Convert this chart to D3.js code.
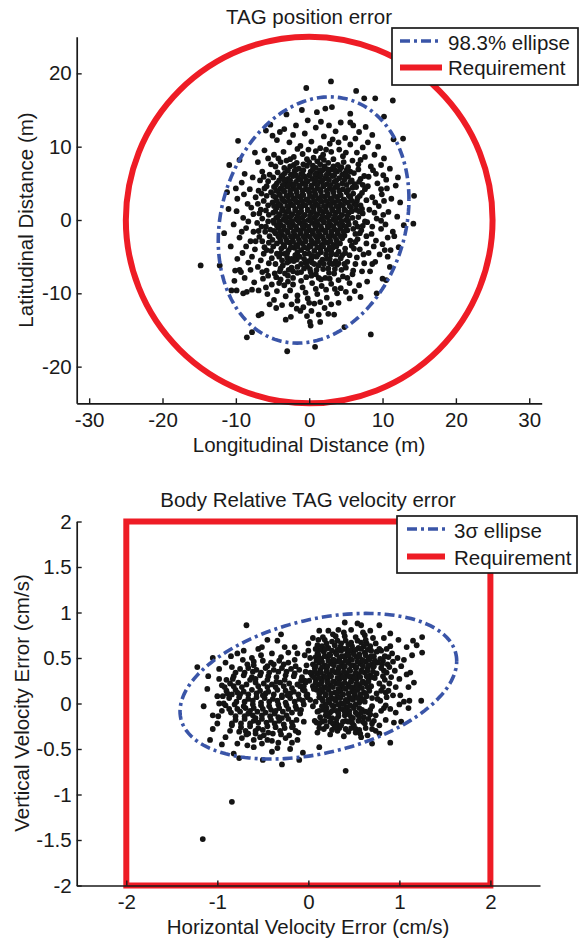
<!DOCTYPE html>
<html>
<head>
<meta charset="utf-8">
<script src="https://cdn.jsdelivr.net/npm/d3@7"></script>
<style>
html,body{margin:0;padding:0;background:#fff;}
svg{display:block;}
text{font-family:"Liberation Sans",Arial,Helvetica,sans-serif;}
</style>
</head>
<body>
<script>
// ---------- Panel 1: TAG position error ----------
const posTitle = "TAG position error";
const posXLabel = "Longitudinal Distance (m)";
const posYLabel = "Latitudinal Distance (m)";
const posTicksX = [-30,-20,-10,0,10,20,30];
const posTicksY = [-20,-10,0,10,20];
const posLegend = ["98.3% ellipse","Requirement"];
const posRequirementRadius = [25];
const posEllipseCenter = [0.6, 0.0];
const posEllipseCov = [169, 37, 282]; // sxx, sxy, syy
const posPoints = [
[-2.6,7.3],[-1.4,7.0],[-0.3,7.4],[0.9,7.1],[2.1,7.3],[3.0,6.9],[4.4,7.2],
[-3.3,6.4],[-2.0,6.7],[-1.1,6.3],[0.2,6.6],[1.1,6.4],[1.8,6.8],[2.7,6.3],[3.8,6.6],[4.9,6.4],
[-3.8,5.9],[-2.9,5.6],[-2.2,6.0],[-1.5,5.7],[-0.6,5.9],[0.4,5.6],[1.3,5.9],[2.2,5.7],[3.2,6.0],[4.1,5.7],[5.3,5.9],
[-4.4,5.0],[-3.2,5.3],[-2.5,4.9],[-1.8,5.2],[-0.9,5.0],[-0.2,5.3],[0.7,5.0],[1.5,5.2],[2.4,4.9],[3.4,5.2],[4.5,5.0],[5.6,5.2],
[-4.8,4.5],[-3.9,4.3],[-3.0,4.6],[-2.2,4.3],[-1.3,4.5],[-0.5,4.2],[0.3,4.5],[1.1,4.3],[1.9,4.6],[2.8,4.3],[3.6,4.5],[4.6,4.2],[5.9,4.4],
[-5.2,3.8],[-4.1,3.6],[-3.4,3.9],[-2.6,3.6],[-1.7,3.8],[-0.9,3.5],[0.0,3.8],[0.8,3.6],[1.6,3.9],[2.5,3.6],[3.3,3.8],[4.2,3.5],[5.1,3.8],[6.0,3.6],
[-4.6,3.1],[-3.7,2.9],[-2.9,3.2],[-2.1,2.9],[-1.2,3.1],[-0.4,2.8],[0.5,3.1],[1.3,2.9],[2.1,3.2],[2.9,2.9],[3.8,3.1],[4.7,2.8],[5.6,3.1],
[-5.0,2.4],[-4.2,2.2],[-3.3,2.5],[-2.5,2.2],[-1.6,2.4],[-0.8,2.1],[0.1,2.4],[0.9,2.2],[1.7,2.5],[2.6,2.2],[3.4,2.4],[4.3,2.1],[5.2,2.4],[6.2,2.2],
[-4.4,1.7],[-3.6,1.5],[-2.8,1.8],[-1.9,1.5],[-1.1,1.7],[-0.2,1.4],[0.6,1.7],[1.4,1.5],[2.3,1.8],[3.1,1.5],[4.0,1.7],[4.8,1.4],[5.7,1.7],
[-4.9,1.0],[-4.0,0.8],[-3.1,1.1],[-2.3,0.8],[-1.4,1.0],[-0.6,0.7],[0.3,1.0],[1.1,0.8],[1.9,1.1],[2.8,0.8],[3.6,1.0],[4.5,0.7],[5.4,1.0],
[-4.5,0.3],[-3.5,0.1],[-2.7,0.4],[-1.8,0.1],[-1.0,0.3],[-0.1,0.0],[0.7,0.3],[1.6,0.1],[2.4,0.4],[3.3,0.1],[4.1,0.3],[5.0,0.0],[5.9,0.3],
[-4.8,-0.4],[-3.9,-0.6],[-3.0,-0.3],[-2.2,-0.6],[-1.3,-0.4],[-0.5,-0.7],[0.4,-0.4],[1.2,-0.6],[2.0,-0.3],[2.9,-0.6],[3.7,-0.4],[4.6,-0.7],
[-4.2,-1.1],[-3.4,-1.3],[-2.5,-1.0],[-1.6,-1.3],[-0.8,-1.1],[0.1,-1.4],[0.9,-1.1],[1.8,-1.3],[2.6,-1.0],[3.5,-1.3],[4.3,-1.1],[5.2,-1.4],
[-4.6,-1.8],[-3.7,-2.0],[-2.9,-1.7],[-2.0,-2.0],[-1.2,-1.8],[-0.3,-2.1],[0.5,-1.8],[1.4,-2.0],[2.2,-1.7],[3.1,-2.0],[3.9,-1.8],[4.8,-2.1],
[-4.0,-2.5],[-3.1,-2.7],[-2.3,-2.4],[-1.4,-2.7],[-0.6,-2.5],[0.3,-2.8],[1.1,-2.5],[2.0,-2.7],[2.8,-2.4],[3.7,-2.7],[4.5,-2.5],
[-4.4,-3.2],[-3.5,-3.4],[-2.6,-3.1],[-1.8,-3.4],[-0.9,-3.2],[0.0,-3.5],[0.8,-3.2],[1.7,-3.4],[2.5,-3.1],[3.3,-3.4],[4.2,-3.2],
[-3.8,-3.9],[-2.8,-4.1],[-2.0,-3.8],[-1.1,-4.1],[-0.2,-3.9],[0.7,-4.2],[1.5,-3.9],[2.4,-4.1],[3.2,-3.8],
[-2.9,6.8],[-1.8,6.9],[-0.8,6.8],[0.5,6.9],[1.5,6.8],[2.5,6.9],[3.5,6.8],[4.2,6.9],
[-3.6,6.1],[-2.5,6.2],[-1.8,6.1],[-0.9,6.2],[0.0,6.1],[0.8,6.2],[1.6,6.1],[2.4,6.2],[3.4,6.1],[4.5,6.2],[5.0,6.1],
[-4.1,5.4],[-3.4,5.5],[-2.6,5.4],[-1.2,5.5],[-0.4,5.4],[0.9,5.5],[1.8,5.4],[2.7,5.5],[3.7,5.4],[4.8,5.5],
[-4.6,4.7],[-3.6,4.8],[-2.8,4.7],[-2.1,4.8],[-1.4,4.7],[-0.5,4.8],[0.3,4.7],[1.1,4.8],[2.0,4.7],[2.9,4.8],[3.9,4.7],[5.1,4.8],
[-4.5,4.0],[-3.5,4.1],[-2.6,4.0],[-1.8,4.1],[-0.9,4.0],[-0.1,4.1],[0.7,4.0],[1.5,4.1],[2.4,4.0],[3.2,4.1],[4.1,4.0],[5.3,4.1],
[-4.9,3.3],[-4.0,3.4],[-3.1,3.3],[-2.4,3.4],[-1.6,3.3],[-0.8,3.4],[0.1,3.3],[0.9,3.4],[1.7,3.3],[2.5,3.4],[3.4,3.3],[4.3,3.4],[5.4,3.3],
[-4.4,2.6],[-3.6,2.7],[-2.7,2.6],[-1.9,2.7],[-1.0,2.6],[-0.2,2.7],[0.7,2.6],[1.5,2.7],[2.3,2.6],[3.1,2.7],[4.0,2.6],[4.8,2.7],[5.8,2.6],
[-4.8,1.9],[-3.9,2.0],[-3.0,1.9],[-2.2,2.0],[-1.3,1.9],[-0.5,2.0],[0.4,1.9],[1.2,2.0],[2.0,1.9],[2.9,2.0],[3.7,1.9],[4.6,2.0],[5.5,1.9],
[-4.6,1.2],[-3.7,1.3],[-2.8,1.2],[-1.9,1.3],[-1.1,1.2],[-0.2,1.3],[0.6,1.2],[1.5,1.3],[2.3,1.2],[3.2,1.3],[4.0,1.2],[4.9,1.3],[5.8,1.2],
[-4.2,0.5],[-3.3,0.6],[-2.5,0.5],[-1.6,0.6],[-0.8,0.5],[0.1,0.6],[0.9,0.5],[1.8,0.6],[2.6,0.5],[3.5,0.6],[4.3,0.5],[5.2,0.6],
[-4.9,-0.1],[-4.1,-0.2],[-3.2,-0.1],[-2.4,-0.2],[-1.5,-0.1],[-0.7,-0.2],[0.2,-0.1],[1.0,-0.2],[1.9,-0.1],[2.7,-0.2],[3.6,-0.1],[4.4,-0.2],[5.3,-0.1],
[-4.4,-0.8],[-3.5,-0.9],[-2.7,-0.8],[-1.8,-0.9],[-0.9,-0.8],[-0.1,-0.9],[0.8,-0.8],[1.6,-0.9],[2.5,-0.8],[3.3,-0.9],[4.2,-0.8],[5.0,-0.9],
[-4.8,-1.5],[-3.9,-1.6],[-3.0,-1.5],[-2.1,-1.6],[-1.2,-1.5],[-0.4,-1.6],[0.5,-1.5],[1.3,-1.6],[2.2,-1.5],[3.0,-1.6],[3.9,-1.5],[4.7,-1.6],
[-4.2,-2.2],[-3.3,-2.3],[-2.5,-2.2],[-1.6,-2.3],[-0.8,-2.2],[0.1,-2.3],[0.9,-2.2],[1.8,-2.3],[2.6,-2.2],[3.5,-2.3],[4.3,-2.2],
[-3.9,-2.9],[-3.0,-3.0],[-2.2,-2.9],[-1.3,-3.0],[-0.5,-2.9],[0.4,-3.0],[1.2,-2.9],[2.1,-3.0],[2.9,-2.9],[3.8,-3.0],
[-3.4,-3.6],[-2.5,-3.7],[-1.6,-3.6],[-0.7,-3.7],[0.2,-3.6],[1.1,-3.7],[1.9,-3.6],[2.8,-3.7],[3.7,-3.6],
[-5.5,0.7],[-5.3,-1.3],[-5.4,-2.2],[-5.0,-2.7],[6.4,1.4],[6.3,-0.4],[5.6,-2.8],[5.4,-0.6],[6.0,-1.2],[5.8,5.4],
[-4.9,5.8],[-4.3,6.5],[5.6,6.6],[-3.9,-4.6],[4.0,-4.3],[4.9,-3.9],[-4.9,-3.6],
[-4.4,-4.6],[-3.0,-4.5],[-1.6,-4.4],[-0.6,-4.6],[0.3,-5.2],[1.0,-5.0],[2.8,-5.3],[1.6,-4.4],[3.0,-4.3],[4.5,-4.8],
[-2.7,-5.6],[-1.7,-5.4],[-0.5,-5.8],[0.4,-5.8],[1.5,-5.8],[2.8,-5.9],[3.5,-6.7],[-3.9,-6.6],[-2.8,-6.8],[-1.6,-6.4],
[-0.3,-6.3],[1.0,-6.8],[1.9,-6.7],[-4.5,-7.8],[-3.3,-7.3],[-2.2,-7.9],[-1.1,-7.1],[0.2,-7.1],[1.3,-7.9],[2.7,-7.2],
[-5.6,-7.6],[-4.1,-8.6],[-2.9,-8.4],
[-5.8,3.3],[-6.1,4.3],[-5.6,5.3],[-6.5,3.6],[-5.6,2.0],[-6.4,0.2],[-5.9,-0.9],[-6.8,0.9],[-6.4,-2.9],[-5.8,-4.1],
[-6.9,-1.5],[-7.0,2.2],[-5.4,6.2],[-6.2,5.9],
[6.5,2.6],[6.9,3.3],[6.2,4.9],[7.0,5.6],[6.6,-0.9],[6.9,-1.8],[6.1,-3.9],[7.3,0.9],[7.6,-0.2],[7.2,1.5],
[6.4,2.0],[7.6,4.2],
[-4.6,7.3],[-3.4,7.1],[-2.1,7.5],[-0.8,7.6],[0.5,7.4],[1.1,8.0],[2.0,8.2],[3.3,7.3],[4.7,7.9],[5.1,6.8],
[-2.6,8.3],[-4.2,8.4],[3.0,9.3],[-0.1,9.6],[1.6,8.5],
[-5.3,13.0],[-3.4,12.4],[-1.8,12.9],[-0.6,11.8],[0.9,12.6],[2.0,11.4],[3.6,12.1],[4.9,11.2],[6.8,12.0],[8.6,11.6],
[-4.4,10.9],[-2.7,10.6],[-1.2,10.1],[0.3,10.7],[1.5,9.8],[2.8,10.4],[4.1,9.6],[5.6,10.3],[7.3,9.9],[9.4,10.0],
[-6.1,9.5],[-4.8,8.9],[-3.5,9.3],[-2.1,8.6],[-0.9,9.0],[0.6,8.5],[1.9,8.9],[3.3,8.3],[4.6,8.7],[5.9,8.1],[7.6,8.6],[10.2,8.4],
[-7.0,7.9],[-5.2,7.6],[-3.9,7.9],[-1.7,7.8],[0.0,7.9],[1.5,7.6],[2.6,7.8],[3.9,7.5],[5.3,7.2],[6.7,7.6],[8.4,7.3],
[-6.4,6.6],[6.1,6.4],[7.5,6.0],[9.1,6.3],[11.0,7.0],
[-4.0,12.0],[-2.2,11.6],[1.6,13.4],[2.7,12.9],[4.3,13.3],[6.0,12.9],[7.7,12.7],[-0.2,13.6],[-5.0,11.5],[3.2,11.0],
[6.3,11.1],[8.0,10.6],[-3.1,8.1],[-0.3,8.3],[2.3,9.6],[4.0,10.6],[6.5,9.2],[8.9,8.9],[-5.6,8.4],[0.9,9.4],
[-1.6,9.7],[5.0,9.2],[7.0,8.2],[9.8,7.5],[10.5,5.5],[8.1,5.9],[6.4,4.5],[7.3,4.8],
[-9.2,5.1],[-8.1,4.2],[-6.7,5.4],[-5.8,4.6],[-9.8,2.9],[-8.4,2.2],[-7.3,3.1],[-6.2,2.6],[-5.9,1.3],[-7.6,0.8],
[-9.0,0.3],[-10.3,-0.6],[-8.6,-1.1],[-7.1,-0.4],[-6.0,-1.6],[-5.6,-0.2],[-9.5,-2.4],[-8.0,-2.9],[-6.8,-2.3],[-5.5,-3.1],
[-7.4,-4.0],[-9.1,-4.5],[-6.2,-4.6],[-5.1,-5.2],[-8.3,-5.8],[-7.0,-6.4],[-5.8,-6.9],[-4.7,-7.3],[-8.8,-7.9],[-7.5,-8.5],
[-6.3,-8.0],[-5.1,-8.8],[-3.9,-8.1],[-6.9,-9.6],[-5.7,-10.1],[-4.4,-9.7],[-3.2,-10.4],
[-11.2,3.8],[-11.6,-1.8],[-10.7,-3.6],[-11.0,1.5],
[-10.0,4.3],[-8.8,6.3],[-7.7,5.8],[-6.9,4.0],[-8.9,3.5],[-7.9,1.7],[-6.6,1.4],[-9.9,1.2],[-8.3,-0.2],[-6.5,-0.9],
[-9.2,-1.6],[-7.6,-1.6],[-7.3,-2.9],[-8.6,-3.6],[-6.1,-3.7],[-9.8,-5.3],[-7.8,-5.0],[-6.6,-5.5],[-5.5,-5.9],[-8.0,-6.8],
[-6.4,-7.1],[-9.5,-6.8],[-7.8,-9.5],[-5.9,-9.2],[-4.8,-10.9],[-3.7,-11.6],[-5.4,-11.5],[-10.2,-8.3],
[-3.0,-5.1],[-1.9,-4.8],[-0.7,-5.3],[0.5,-4.9],[1.8,-5.4],[3.0,-4.7],[4.3,-5.2],[5.5,-4.8],
[-3.6,-6.2],[-2.4,-6.5],[-1.1,-6.0],[0.1,-6.7],[1.3,-6.2],[2.6,-6.6],[3.8,-6.1],[5.0,-6.5],[6.3,-6.0],
[-2.9,-7.6],[-1.6,-7.2],[-0.4,-7.8],[0.9,-7.4],[2.2,-7.9],[3.4,-7.3],[4.6,-7.7],[5.9,-7.4],[7.2,-7.0],
[-2.2,-8.8],[-0.9,-9.2],[0.4,-8.6],[1.7,-9.0],[3.0,-8.7],[4.3,-9.3],[5.5,-8.6],[6.8,-8.9],
[-1.6,-10.3],[-0.2,-10.7],[1.1,-10.1],[2.4,-10.6],[3.8,-10.0],[-2.4,-11.5],[-0.8,-11.9],[0.7,-11.4],[2.1,-12.0],[4.0,-11.3],
[1.3,-12.9],[-0.3,-13.1],
[-5.2,-4.2],[-4.1,-5.0],[-3.3,-4.6],[-4.6,-6.0],[-3.0,-5.8],[-2.1,-5.6],[-4.0,-7.0],[-3.4,-8.9],[-2.6,-9.6],
[5.2,-5.7],[6.0,-6.9],[4.0,-5.9],[6.5,-5.1],
[-0.1,-5.6],[2.4,-5.3],[3.6,-5.6],[4.8,-6.0],[-2.4,-5.3],[-1.3,-5.0],[0.0,-4.6],[1.2,-4.7],[2.3,-4.7],[3.7,-4.7],
[4.9,-4.5],[-3.7,-5.5],[-0.7,-6.6],[0.7,-6.0],[2.0,-6.0],[3.2,-6.0],[4.4,-6.8],[-2.2,-7.0],[-1.1,-8.3],[0.3,-7.6],
[1.6,-8.1],[2.8,-8.0],[4.0,-8.2],[5.2,-7.9],[-0.5,-9.9],[0.9,-9.4],[2.3,-9.5],[3.5,-9.4],[5.0,-9.8],[-1.6,-11.0],
[0.0,-11.3],[1.5,-11.2],[3.0,-11.5],[-1.2,-12.4],[0.3,-12.4],[2.6,-12.8],[-4.5,-12.0],[6.2,-9.7],[7.9,-8.4],[8.3,-7.0],
[7.5,-5.9],[8.6,-6.0],
[6.8,5.2],[8.0,4.6],[9.3,5.0],[10.6,4.3],[7.2,3.7],[8.6,3.1],[9.9,3.5],[11.2,2.9],[7.0,2.0],[8.2,1.4],
[9.5,1.9],[10.8,1.1],[6.7,0.4],[7.9,-0.3],[9.2,0.2],[10.4,-0.6],[7.1,-1.4],[8.5,-1.9],[9.8,-1.2],[6.6,-2.6],
[7.8,-3.2],[9.1,-2.8],[10.7,-2.4],[6.9,-4.0],[8.1,-4.5],[5.8,-3.5],
[6.6,3.0],[7.8,2.7],[9.0,2.4],[10.2,2.6],[6.8,1.2],[8.9,1.0],[10.1,0.7],[7.3,-0.8],[8.6,-0.9],[9.8,-0.1],
[11.4,-1.6],[6.3,-1.9],[7.8,-2.2],[8.8,-3.6],[10.0,-3.3],[7.4,-4.7],[6.3,-3.0],[10.7,-5.0],[6.7,6.9],[8.7,6.8],
[10.1,6.1],[9.8,4.2],[11.8,4.7],[12.1,5.8],[11.6,-2.2],[10.3,-4.1],
[2.97,18.9],[-0.4,18.0],[6.4,17.6],[7.5,16.6],[9.0,16.6],[11.4,16.3],[-3.1,14.4],[-1.0,15.0],[1.05,14.7],[2.2,15.2],
[3.1,15.4],[5.6,14.5],[5.6,13.3],[10.2,14.1],[-5.9,12.2],[-9.7,10.8],[-10.9,7.5],[-9.5,8.2],[-7.4,9.2],[12.8,11.1],
[11.5,11.0],[14.3,3.3],[14.2,-0.5],[12.4,2.4],[12.0,0.45],[12.9,-0.7],[12.2,-3.7],[11.1,-4.1],[9.6,-4.7],[9.0,-5.7],
[11.0,-6.4],[10.5,-8.2],[10.0,-8.0],[-14.8,-6.2],[-12.2,-6.2],[-10.1,-6.9],[-9.3,-7.1],[-10.6,-9.6],[-9.9,-9.6],[-9.0,-10.0],
[-8.5,-9.8],[-6.9,-13.0],[-6.5,-12.8],[-8.5,-16.0],[-7.8,-15.3],[-3.0,-17.9],[0.8,-17.3],[0.2,-14.4],[0.1,-13.9],[1.5,-13.9],
[4.8,-14.6],[8.4,-15.6],[-3.2,-13.6],[-2.5,-13.2],[-1.7,-12.1],[3.4,-12.9],[7.0,-10.5],[5.5,-10.7],[9.2,-10.0]
];

// ---------- Panel 2: Body Relative TAG velocity error ----------
const velTitle = "Body Relative TAG velocity error";
const velXLabel = "Horizontal Velocity Error (cm/s)";
const velYLabel = "Vertical Velocity Error (cm/s)";
const velTicksX = [-2,-1,0,1,2];
const velTicksY = [-2,-1.5,-1,-0.5,0,0.5,1,1.5,2];
const velLegend = ["3\u03C3 ellipse","Requirement"];
const velRequirementHalf = [2];
const velEllipseCenter = [0.11, 0.19];
const velEllipseCov = [2.31, 0.42, 0.64]; // sxx, sxy, syy
const velPoints = [
[0.15,0.63],[0.22,0.61],[0.29,0.64],[0.35,0.62],[0.42,0.60],[0.48,0.63],[0.55,0.61],[0.61,0.63],
[0.10,0.55],[0.17,0.57],[0.23,0.54],[0.30,0.56],[0.36,0.58],[0.43,0.55],[0.49,0.57],[0.56,0.54],[0.62,0.56],[0.69,0.58],
[0.08,0.51],[0.14,0.49],[0.21,0.51],[0.27,0.48],[0.34,0.50],[0.40,0.52],[0.46,0.49],[0.53,0.51],[0.59,0.48],[0.66,0.50],[0.72,0.52],
[0.05,0.43],[0.12,0.45],[0.18,0.42],[0.25,0.44],[0.31,0.46],[0.37,0.43],[0.44,0.45],[0.50,0.42],[0.57,0.44],[0.63,0.46],[0.70,0.43],[0.76,0.45],
[0.07,0.39],[0.13,0.37],[0.20,0.39],[0.26,0.36],[0.33,0.38],[0.39,0.40],[0.45,0.37],[0.52,0.39],[0.58,0.36],[0.65,0.38],[0.71,0.40],
[0.04,0.31],[0.10,0.33],[0.17,0.30],[0.23,0.32],[0.30,0.34],[0.36,0.31],[0.42,0.33],[0.49,0.30],[0.55,0.32],[0.62,0.34],[0.68,0.31],[0.75,0.33],
[0.08,0.27],[0.15,0.25],[0.21,0.27],[0.28,0.24],[0.34,0.26],[0.40,0.28],[0.47,0.25],[0.53,0.27],[0.60,0.24],[0.66,0.26],[0.73,0.28],
[0.05,0.19],[0.11,0.21],[0.18,0.18],[0.24,0.20],[0.31,0.22],[0.37,0.19],[0.44,0.21],[0.50,0.18],[0.56,0.20],[0.63,0.22],[0.69,0.19],
[0.09,0.15],[0.16,0.13],[0.22,0.15],[0.29,0.12],[0.35,0.14],[0.41,0.16],[0.48,0.13],[0.54,0.15],[0.61,0.12],[0.67,0.14],
[0.12,0.07],[0.19,0.09],[0.25,0.06],[0.32,0.08],[0.38,0.10],[0.45,0.07],[0.51,0.09],[0.58,0.06],[0.64,0.08],
[0.16,0.03],[0.23,0.01],[0.30,0.03],[0.36,0.00],[0.43,0.02],[0.49,0.04],[0.56,0.01],
[0.20,-0.05],[0.28,-0.03],[0.35,-0.06],[0.42,-0.04],[0.50,-0.05],
[0.13,0.59],[0.19,0.60],[0.26,0.58],[0.32,0.59],[0.39,0.60],[0.45,0.58],[0.52,0.59],[0.58,0.60],[0.65,0.59],
[0.11,0.53],[0.18,0.52],[0.24,0.53],[0.31,0.54],[0.37,0.52],[0.44,0.53],[0.50,0.54],[0.56,0.52],[0.63,0.53],[0.69,0.52],
[0.09,0.47],[0.15,0.46],[0.22,0.47],[0.28,0.48],[0.35,0.46],[0.41,0.47],[0.48,0.48],[0.54,0.46],[0.60,0.47],[0.67,0.48],[0.73,0.47],
[0.08,0.41],[0.15,0.40],[0.21,0.41],[0.28,0.42],[0.34,0.40],[0.40,0.41],[0.47,0.42],[0.53,0.40],[0.60,0.41],[0.66,0.42],[0.72,0.41],
[0.07,0.35],[0.14,0.34],[0.20,0.35],[0.27,0.36],[0.33,0.34],[0.39,0.35],[0.46,0.36],[0.52,0.34],[0.59,0.35],[0.65,0.36],[0.71,0.35],
[0.06,0.29],[0.12,0.28],[0.19,0.29],[0.25,0.30],[0.32,0.28],[0.38,0.29],[0.45,0.30],[0.51,0.28],[0.57,0.29],[0.64,0.30],[0.70,0.29],
[0.08,0.23],[0.14,0.22],[0.21,0.23],[0.27,0.24],[0.34,0.22],[0.40,0.23],[0.47,0.24],[0.53,0.22],[0.59,0.23],[0.66,0.24],
[0.08,0.17],[0.14,0.16],[0.21,0.17],[0.27,0.18],[0.33,0.16],[0.40,0.17],[0.46,0.18],[0.53,0.16],[0.59,0.17],[0.65,0.18],
[0.12,0.11],[0.19,0.10],[0.25,0.11],[0.32,0.12],[0.38,0.10],[0.44,0.11],[0.51,0.12],[0.57,0.10],[0.63,0.11],
[0.15,0.05],[0.22,0.04],[0.28,0.05],[0.35,0.06],[0.41,0.04],[0.48,0.05],[0.54,0.06],[0.60,0.04],
[0.19,-0.01],[0.26,-0.02],[0.33,-0.01],[0.39,0.00],[0.46,-0.02],[0.52,-0.01],
[0.10,-0.09],[0.17,-0.07],[0.24,-0.10],[0.31,-0.08],[0.38,-0.06],[0.45,-0.08],[0.52,-0.10],[0.59,-0.07],[0.66,-0.10],
[0.13,-0.15],[0.19,-0.13],[0.26,-0.16],[0.33,-0.14],[0.40,-0.13],[0.47,-0.15],[0.54,-0.12],[0.61,-0.15],[0.68,-0.12],
[0.09,-0.21],[0.18,-0.19],[0.24,-0.20],[0.31,-0.22],[0.41,-0.19],[0.48,-0.21],[0.55,-0.19],[0.60,-0.20],[0.70,-0.22],
[0.17,-0.28],[0.26,-0.29],[0.34,-0.27],[0.41,-0.28],[0.47,-0.27],[0.56,-0.29],[0.63,-0.27],[0.74,-0.30],
[0.80,0.58],[0.82,0.47],[0.81,0.43],[0.83,0.36],[0.84,0.26],[0.82,0.18],[0.85,0.12],[0.79,0.03],[0.83,-0.05],[0.88,0.51],
[0.89,0.40],[0.88,0.14],
[0.20,0.66],[0.32,0.69],[0.44,0.65],[0.54,0.69],[0.64,0.66],[0.11,0.70],[0.40,0.74],[0.62,0.75],
[0.05,0.72],[0.18,0.70],[0.30,0.74],[0.41,0.69],[0.52,0.73],[0.63,0.70],[0.74,0.66],[0.22,0.80],[0.47,0.81],[0.58,0.86],
[0.83,0.72],[0.90,0.63],[0.92,0.55],[0.84,0.52],[0.87,0.43],[0.95,0.36],[0.82,0.30],[0.89,0.22],[1.00,0.27],[0.80,0.14],
[0.93,0.09],[0.76,0.05],[0.85,-0.02],[0.70,-0.03],[0.63,-0.09],[0.74,-0.13],[0.56,-0.15],[0.45,-0.12],[0.33,-0.11],[0.22,-0.14],
[0.12,-0.08],[0.05,-0.03],[0.38,-0.20],[0.50,-0.24],[0.27,-0.22],[0.62,-0.22],[0.15,-0.20],[0.44,-0.31],[0.57,-0.33],[0.32,-0.30],
[0.70,-0.28],[0.85,-0.18],[0.96,-0.10],[1.05,0.02],[1.10,0.18],[1.02,0.41],[0.98,0.50],[1.08,0.62],[0.99,0.70],[-0.02,0.42],
[-0.04,0.25],[-0.01,0.10],[0.00,0.58],[0.10,0.64],[0.02,0.34],[0.06,0.16],
[1.25,0.73],[1.15,0.69],[1.19,0.64],[1.25,0.56],[1.14,0.53],[1.12,0.34],[1.16,0.23],[1.24,0.03],[1.10,-0.05],[1.11,0.03],
[0.90,0.77],[0.78,0.86],[0.54,0.88],[0.40,0.89],[0.39,0.78],[0.16,0.73],[0.90,-0.43],[0.70,-0.44],[0.52,-0.32],[0.58,-0.37],
[0.78,-0.24],[0.72,-0.19],[0.94,-0.21],[0.29,-0.26],[0.36,-0.24],[0.12,-0.27],[0.10,-0.32],[0.12,-0.48],[0.01,0.25],[0.12,0.49],
[0.07,-0.19],[0.12,-0.22],
[0.02,0.50],[0.00,0.66],[0.08,0.60],[0.26,0.68],[0.36,0.66],[0.47,0.67],[0.58,0.67],[0.68,0.63],[0.75,0.57],[0.79,0.49],
[0.80,0.39],[0.78,0.22],[0.75,0.11],[0.70,0.06],[0.62,0.02],[0.68,-0.07],[0.56,-0.05],[0.15,-0.03],[0.08,0.02],[0.02,0.04],
[0.26,-0.08],[0.40,-0.09],[0.49,-0.16],[0.58,-0.10],[0.31,-0.17],[0.20,-0.10],[0.86,0.60],[0.93,0.46],[0.86,0.34],[0.91,0.29],
[0.96,0.18],[0.86,0.07],[1.01,0.09],[0.80,-0.08],[0.90,-0.06],[0.78,0.60],[0.71,0.72],[0.60,0.78],[0.33,0.81],[0.27,0.76],
[0.12,0.80],[0.68,0.80],[1.05,0.48],[1.08,0.32],[0.66,-0.17],[0.44,-0.20],[0.20,-0.25],[0.52,-0.28],[0.39,-0.36],[0.65,-0.35],
[0.78,-0.33],[0.24,-0.34],[1.02,-0.20],[1.00,-0.01],
[-0.60,0.46],[-0.50,0.47],[-0.41,0.45],[-0.32,0.47],[-0.22,0.45],
[-0.75,0.38],[-0.66,0.39],[-0.57,0.37],[-0.47,0.39],[-0.38,0.37],[-0.29,0.39],[-0.19,0.38],[-0.10,0.37],
[-0.82,0.30],[-0.71,0.31],[-0.62,0.29],[-0.53,0.31],[-0.44,0.30],[-0.35,0.29],[-0.25,0.31],[-0.16,0.30],[-0.07,0.29],
[-0.86,0.22],[-0.77,0.23],[-0.68,0.21],[-0.58,0.23],[-0.49,0.22],[-0.40,0.21],[-0.31,0.23],[-0.21,0.22],[-0.12,0.21],[-0.03,0.23],
[-0.90,0.14],[-0.80,0.15],[-0.71,0.13],[-0.62,0.15],[-0.53,0.14],[-0.44,0.13],[-0.34,0.15],[-0.25,0.14],[-0.16,0.13],[-0.06,0.15],
[-0.87,0.06],[-0.76,0.07],[-0.66,0.05],[-0.57,0.07],[-0.48,0.06],[-0.39,0.05],[-0.29,0.07],[-0.20,0.06],[-0.10,0.05],[-0.01,0.07],
[-0.91,-0.02],[-0.81,-0.01],[-0.71,-0.03],[-0.61,-0.01],[-0.52,-0.02],[-0.43,-0.03],[-0.33,-0.01],[-0.24,-0.02],[-0.14,-0.03],[-0.05,-0.01],
[-0.85,-0.10],[-0.75,-0.09],[-0.66,-0.11],[-0.56,-0.09],[-0.47,-0.10],[-0.37,-0.11],[-0.28,-0.09],[-0.18,-0.10],[-0.09,-0.11],
[-0.80,-0.18],[-0.70,-0.17],[-0.60,-0.19],[-0.51,-0.17],[-0.41,-0.18],[-0.32,-0.19],[-0.22,-0.17],[-0.13,-0.18],
[-0.74,-0.26],[-0.64,-0.25],[-0.55,-0.27],[-0.45,-0.25],[-0.36,-0.26],[-0.26,-0.27],[-0.17,-0.25],
[-0.68,-0.34],[-0.58,-0.33],[-0.49,-0.35],[-0.39,-0.33],[-0.30,-0.34],[-0.21,-0.35],
[-0.70,0.34],[-0.52,0.34],[-0.33,0.35],[-0.15,0.33],
[-0.73,0.18],[-0.55,0.19],[-0.36,0.18],[-0.18,0.17],
[-0.84,0.10],[-0.66,0.10],[-0.47,0.11],[-0.29,0.09],[-0.11,0.10],
[-0.70,0.02],[-0.52,0.01],[-0.34,0.03],[-0.15,0.02],
[-0.78,-0.06],[-0.60,-0.05],[-0.41,-0.07],[-0.22,-0.06],
[-0.70,-0.14],[-0.51,-0.13],[-0.33,-0.15],
[-0.64,-0.22],[-0.46,-0.21],[-0.27,-0.23],
[-0.60,0.42],[-0.45,0.41],[-0.27,0.43],[-0.80,0.34],[-0.61,0.35],[-0.43,0.34],[-0.24,0.35],[-0.90,0.26],[-0.64,0.26],[-0.45,0.26],
[-0.26,0.26],[-0.08,0.25],[-0.82,0.19],[-0.45,0.18],[-0.27,0.19],[-0.09,0.19],[-0.94,0.08],[-0.75,0.10],[-0.57,0.11],[-0.38,0.10],
[-0.20,0.11],[-0.79,0.02],[-0.61,0.03],[-0.43,0.02],[-0.25,0.01],[-0.06,0.03],[-0.87,-0.06],[-0.69,-0.05],[-0.50,-0.06],[-0.32,-0.05],
[-0.13,-0.06],[-0.80,-0.14],[-0.61,-0.13],[-0.42,-0.14],[-0.24,-0.13],[-0.74,-0.22],[-0.55,-0.21],[-0.37,-0.22],[-0.18,-0.21],[-0.69,-0.30],
[-0.50,-0.29],[-0.31,-0.30],[-0.60,-0.40],[-0.40,-0.41],[-0.25,-0.38],[-0.73,-0.38],
[-0.83,0.27],[-0.67,0.43],[-0.38,0.43],[-0.14,0.41],[-0.92,0.18],[-0.58,0.27],[-0.35,0.24],[-0.05,0.19],[-0.78,0.12],[-0.50,0.09],
[-0.23,0.09],[-0.95,-0.08],[-0.64,-0.08],[-0.36,-0.08],[-0.08,-0.07],[-0.84,-0.24],[-0.58,-0.16],[-0.29,-0.16],[-0.76,-0.31],[-0.44,-0.32],
[-0.14,-0.30],[-0.53,-0.37],[-0.33,-0.43],[-0.84,0.40],[-0.52,0.53],[-0.30,0.51],[-0.72,0.48],
[-1.10,0.30],[-1.15,-0.03],[-1.00,-0.22],[-0.95,-0.45],[-0.60,-0.48],[-0.20,-0.50],[-0.12,-0.40],[-0.05,-0.20],[-0.03,0.35],[-0.12,0.55],
[-0.55,0.60],[-0.85,0.52],[-1.05,0.50],[-0.30,0.76],[-0.45,0.70],[-0.15,0.62],[-1.00,0.08],[-1.08,-0.40],[-0.50,-0.62],[-0.76,-0.60],
[-0.10,-0.62],
[-1.22,0.40],[-1.11,0.16],[-1.05,-0.13],[-0.99,-0.14],[-1.05,-0.28],[-0.98,0.00],[-0.93,0.00],[-0.98,0.27],[-0.91,0.45],[-0.98,0.38],
[-0.78,0.55],[-0.71,0.58],[-0.51,0.62],[-0.40,0.55],[-0.34,0.69],[-0.26,0.62],[-0.22,0.56],[-0.04,0.53],[-0.68,0.86],[-0.91,-0.37],
[-0.82,-0.55],[-0.78,-0.44],[-0.67,-0.46],[-0.51,-0.44],[-0.40,-0.53],[-0.34,-0.49],[-0.29,-0.67],[-0.18,-0.43],[-0.06,-0.54],[-0.11,-0.32],
[-0.18,-0.26],[-0.04,0.14],[-0.02,0.09],[-0.66,-0.33],[-0.58,-0.30],[-0.84,-0.22],[-0.89,0.11],
[-0.62,0.50],[-0.15,0.48],[-0.45,-0.40],[-0.95,0.20],[-0.86,-0.30],
[-1.16,-1.49],[-0.84,-1.08],[0.41,-0.74]
];

const W = 579, H = 941;
const FONT = 20.5;
const blue = "#3a55a8", red = "#ee1c25", ink = "#141414";

const svg = d3.select("body").append("svg").attr("width", W).attr("height", H);

function ellipsePath(xs, ys, center, cov) {
  const [sxx, sxy, syy] = cov;
  const l11 = Math.sqrt(sxx), l21 = sxy / l11, l22 = Math.sqrt(syy - l21 * l21);
  const ts = d3.range(0, 361, 2).map(d => d * Math.PI / 180);
  const pts = ts.map(t => [center[0] + l11 * Math.cos(t), center[1] + l21 * Math.cos(t) + l22 * Math.sin(t)]);
  return d3.line().x(d => xs(d[0])).y(d => ys(d[1]))(pts);
}

function drawPanel(cfg) {
  const g = svg.append("g");
  const xs = cfg.x, ys = cfg.y;
  g.append("g").selectAll("circle").data(cfg.points).join("circle")
    .attr("cx", d => xs(d[0])).attr("cy", d => ys(d[1])).attr("r", 2.9).attr("fill", ink);
  g.append("path").attr("d", ellipsePath(xs, ys, cfg.eCenter, cfg.eCov))
    .attr("fill", "none").attr("stroke", blue).attr("stroke-width", 3.6)
    .attr("stroke-dasharray", "10,4,3,4");
  cfg.drawReq(g);
  const ax = g.append("g").attr("transform", `translate(0,${ys.range()[0]})`)
    .call(d3.axisBottom(xs).tickValues(cfg.ticksX).tickFormat(d => String(d)).tickSizeInner(-5).tickSizeOuter(0).tickPadding(9));
  const ay = g.append("g").attr("transform", `translate(${xs.range()[0]},0)`)
    .call(d3.axisLeft(ys).tickValues(cfg.ticksY).tickFormat(d => String(d)).tickSizeInner(-5).tickSizeOuter(0).tickPadding(5));
  [ax, ay].forEach(a => {
    a.attr("font-family", '"Liberation Sans",Arial,Helvetica,sans-serif').attr("font-size", FONT);
    a.select(".domain").attr("stroke", "#1a1a1a").attr("stroke-width", 1.7);
    a.selectAll(".tick line").attr("stroke", "#1a1a1a").attr("stroke-width", 1.4);
    a.selectAll(".tick text").attr("fill", "#1a1a1a");
  });
  g.append("text").attr("x", cfg.titleX).attr("y", cfg.titleY).attr("text-anchor", "middle")
    .attr("font-size", FONT).attr("fill", "#1a1a1a").text(cfg.title);
  g.append("text").attr("x", cfg.xLabelX).attr("y", cfg.xLabelY).attr("text-anchor", "middle")
    .attr("font-size", FONT).attr("fill", "#1a1a1a").text(cfg.xLabel);
  g.append("text").attr("transform", `translate(${cfg.yLabelX},${cfg.yLabelY}) rotate(-90)`)
    .attr("text-anchor", "middle").attr("font-size", FONT).attr("fill", "#1a1a1a").text(cfg.yLabel);
  const L = cfg.legend;
  const lg = g.append("g");
  lg.append("rect").attr("x", L.x).attr("y", L.y).attr("width", L.w).attr("height", L.h)
    .attr("fill", "#fff").attr("stroke", "#1a1a1a").attr("stroke-width", 1.7);
  lg.append("line").attr("x1", L.lx1).attr("x2", L.lx2).attr("y1", L.y1).attr("y2", L.y1)
    .attr("stroke", blue).attr("stroke-width", 3.6).attr("stroke-dasharray", "10,4,3,4");
  lg.append("line").attr("x1", L.lx1).attr("x2", L.lx2).attr("y1", L.y2).attr("y2", L.y2)
    .attr("stroke", red).attr("stroke-width", 6);
  lg.append("text").attr("x", L.tx).attr("y", L.t1).attr("font-size", FONT).attr("fill", "#1a1a1a").text(cfg.legendText[0]);
  lg.append("text").attr("x", L.tx).attr("y", L.t2).attr("font-size", FONT).attr("fill", "#1a1a1a").text(cfg.legendText[1]);
}

const px = d3.scaleLinear().domain([-31.7, 31.7]).range([76.7, 541.7]);
const py = d3.scaleLinear().domain([-25, 25]).range([403.3, 36.7]);
drawPanel({
  x: px, y: py, points: posPoints, eCenter: posEllipseCenter, eCov: posEllipseCov,
  ticksX: posTicksX, ticksY: posTicksY,
  title: posTitle, titleX: 309, titleY: 24,
  xLabel: posXLabel, xLabelX: 309, xLabelY: 452,
  yLabel: posYLabel, yLabelX: 33, yLabelY: 220,
  legendText: posLegend,
  legend: {x: 392, y: 28, w: 186, h: 57, lx1: 400, lx2: 442, y1: 41, y2: 67.5, tx: 448, t1: 50, t2: 75},
  drawReq: g => {
    const r = posRequirementRadius[0];
    g.append("ellipse").attr("cx", px(0)).attr("cy", py(0))
      .attr("rx", px(r) - px(0)).attr("ry", py(0) - py(r))
      .attr("fill", "none").attr("stroke", red).attr("stroke-width", 6);
  }
});

const vx = d3.scaleLinear().domain([-2.545, 2.545]).range([76.7, 540]);
const vy = d3.scaleLinear().domain([-2, 2]).range([885.5, 521.5]);
drawPanel({
  x: vx, y: vy, points: velPoints, eCenter: velEllipseCenter, eCov: velEllipseCov,
  ticksX: velTicksX, ticksY: velTicksY,
  title: velTitle, titleX: 308, titleY: 507,
  xLabel: velXLabel, xLabelX: 308, xLabelY: 934,
  yLabel: velYLabel, yLabelX: 29, yLabelY: 703,
  legendText: velLegend,
  legend: {x: 397, y: 516, w: 180, h: 57, lx1: 407, lx2: 445, y1: 529, y2: 556.5, tx: 454, t1: 538, t2: 565},
  drawReq: g => {
    const s = velRequirementHalf[0];
    g.append("rect").attr("x", vx(-s)).attr("y", vy(s))
      .attr("width", vx(s) - vx(-s)).attr("height", vy(-s) - vy(s))
      .attr("fill", "none").attr("stroke", red).attr("stroke-width", 6);
  }
});
</script>
</body>
</html>
